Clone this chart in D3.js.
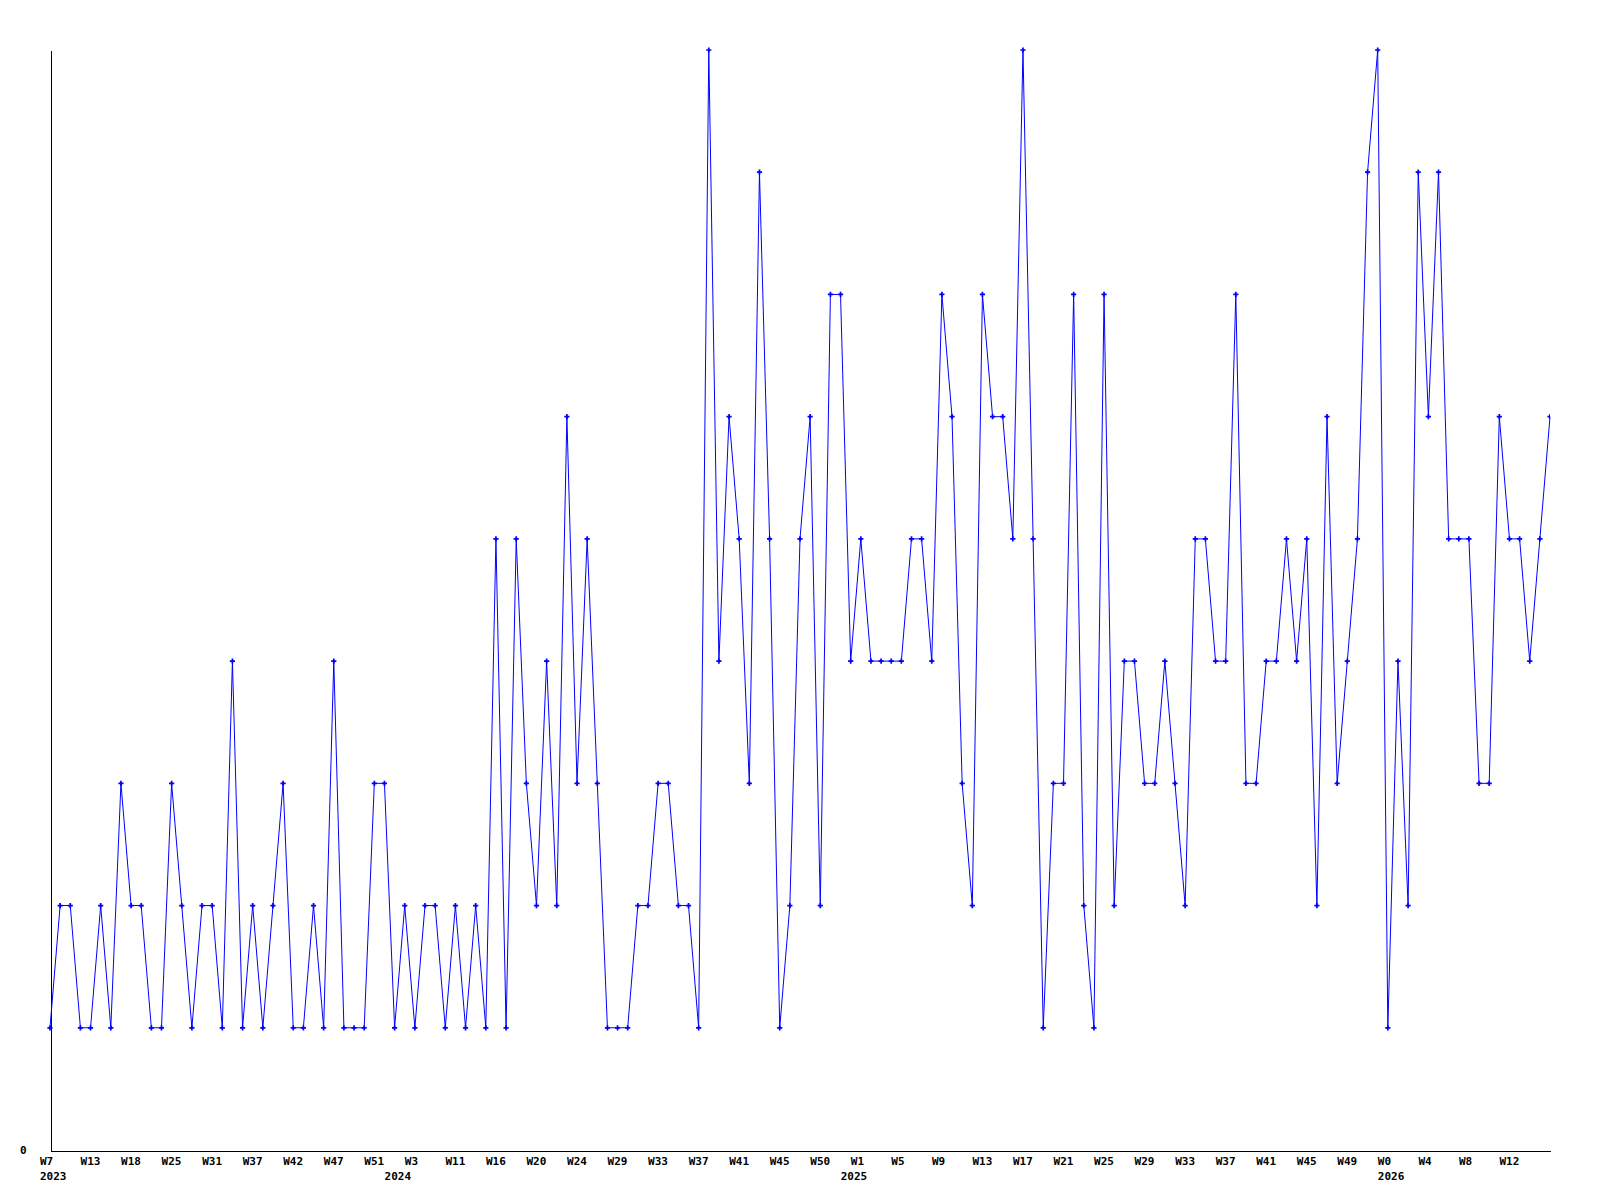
<!DOCTYPE html>
<html>
<head>
<meta charset="utf-8">
<script src="https://cdn.jsdelivr.net/npm/d3@7"></script>
<style>
  html, body { margin: 0; padding: 0; background: #ffffff; }
  svg { display: block; }
  .axis text { font-family: "DejaVu Sans Mono", monospace; font-weight: bold; font-size: 11px; fill: #000; }
  .axis path.domain { stroke: #000; stroke-width: 1; shape-rendering: crispEdges; }
</style>
</head>
<body>
<svg id="chart" width="1600" height="1200"></svg>
<script>
// Series values, one per period
const values = [
  1,2,2,1,1,2,1,3,2,2,1,1,3,2,1,2,2,1,4,1,2,1,2,3,1,
  1,2,1,4,1,1,1,3,3,1,2,1,2,2,1,2,1,2,1,5,1,5,3,2,4,
  2,6,3,5,3,1,1,1,2,2,3,3,2,2,1,9,4,6,5,3,8,5,1,2,5,
  6,2,7,7,4,5,4,4,4,4,5,5,4,7,6,3,2,7,6,6,5,9,5,1,3,
  3,7,2,1,7,2,4,4,3,3,4,3,2,5,5,4,4,7,3,3,4,4,5,4,5,
  2,6,3,4,5,8,9,1,4,2,8,6,8,5,5,5,3,3,6,5,5,4,5,6
];
// Week tick labels (every 4th period)
const weekLabels = ["W7","W13","W18","W25","W31","W37","W42","W47","W51","W3","W11","W16",
  "W20","W24","W29","W33","W37","W41","W45","W50","W1","W5","W9","W13","W17","W21",
  "W25","W29","W33","W37","W41","W45","W49","W0","W4","W8","W12"];
const weekStep = 4;
// Year labels and the period index where they appear
const yearLabels = ["2023","2024","2025","2026"];
const yearIndex = [0, 34, 79, 132];
// Y tick labels
const yTicks = [0];
const yMax = 9;

const svg = d3.select("#chart");
const x = d3.scaleLinear().domain([0, values.length - 1]).range([50, 1550]);
const y = d3.scaleLinear().domain([0, yMax]).range([1150, 50]);

svg.append("defs").append("clipPath").attr("id", "plotclip")
  .append("rect").attr("x", 40).attr("y", 40).attr("width", 1510).attr("height", 1120);

// Y axis
const yAxis = svg.append("g").attr("class", "axis")
  .attr("transform", "translate(50.5,0)")
  .call(d3.axisLeft(y).tickValues(yTicks).tickSize(0).tickSizeOuter(0).tickPadding(24).tickFormat(d3.format("d")));
yAxis.selectAll("text").attr("dy", "0.35em");

// X axis with week labels
const weekIdx = weekLabels.map((_, i) => i * weekStep);
const xAxis = svg.append("g").attr("class", "axis")
  .attr("transform", "translate(0,1150.5)")
  .call(d3.axisBottom(x).tickValues(weekIdx).tickSize(0).tickSizeOuter(0)
    .tickFormat((d, i) => weekLabels[i]));
xAxis.selectAll("text").attr("text-anchor", "start").attr("x", -10.5).attr("y", 14).attr("dy", 0);

// Year labels
const yearAxis = svg.append("g").attr("class", "axis")
  .attr("transform", "translate(0,1150.5)")
  .call(d3.axisBottom(x).tickValues(yearIndex).tickSize(0).tickSizeOuter(0)
    .tickFormat((d, i) => yearLabels[i]));
yearAxis.select("path.domain").remove();
yearAxis.selectAll("text").attr("text-anchor", "start").attr("x", -10.5).attr("y", 29).attr("dy", 0);

// Line
const line = d3.line().x((d, i) => x(i)).y(d => y(d));
svg.append("path").datum(values)
  .attr("d", line)
  .attr("fill", "none")
  .attr("stroke", "#0000ff")
  .attr("stroke-width", 1);

// Markers
const sym = d3.symbol().type(d3.symbolCross).size(15);
svg.append("g").attr("clip-path", "url(#plotclip)")
  .selectAll("path").data(values).join("path")
  .attr("transform", (d, i) => `translate(${x(i)},${y(d)})`)
  .attr("d", sym)
  .attr("fill", "#0000ff");
</script>
</body>
</html>
